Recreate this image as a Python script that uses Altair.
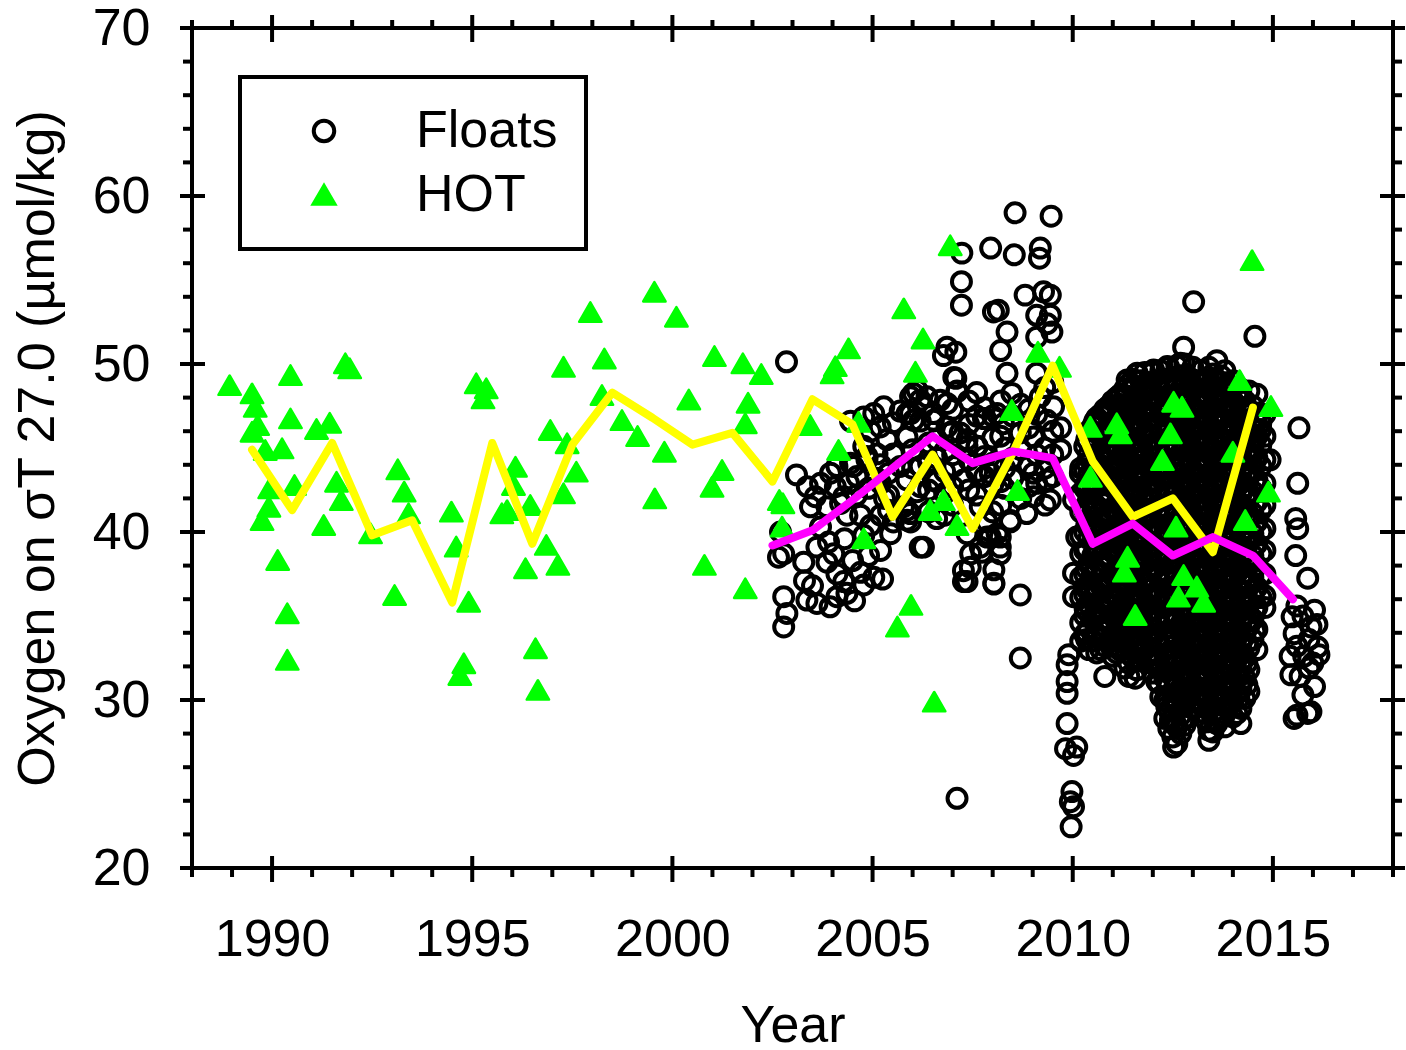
import altair as alt
import pandas as pd

FONT = "Liberation Sans"
W, H = 1201, 840

# ---------------- data ----------------
x_major = [1990, 1995, 2000, 2005, 2010, 2015]
x_minor = [1988, 1989, 1991, 1992, 1993, 1994, 1996, 1997, 1998, 1999, 2001, 2002,
           2003, 2004, 2006, 2007, 2008, 2009, 2011, 2012, 2013, 2014, 2016, 2017, 2018]
y_major = [20, 30, 40, 50, 60, 70]
y_minor = [22, 24, 26, 28, 32, 34, 36, 38, 42, 44, 46, 48, 52, 54, 56, 58, 62, 64, 66, 68]

series_names = ["Floats", "HOT"]

# yellow line (HOT annual means)
hot_mean_year = [1989.5, 1990.5, 1991.5, 1992.5, 1993.5, 1994.5, 1995.5, 1996.5, 1997.5,
                 1998.5, 1999.5, 2000.5, 2001.5, 2002.5, 2003.5, 2004.5, 2005.5, 2006.5,
                 2007.5, 2008.5, 2009.5, 2010.5, 2011.5, 2012.5, 2013.5, 2014.5]
hot_mean_o2 = [44.9, 41.3, 45.3, 39.8, 40.7, 35.8, 45.3, 39.3, 45.2,
               48.3, 46.8, 45.2, 45.9, 43.0, 47.9, 46.4, 40.9, 44.6,
               40.2, 44.7, 49.9, 44.2, 40.9, 42.0, 38.8, 47.4]

# magenta line (float annual means)
float_mean_year = [2002.5, 2003.5, 2004.5, 2005.5, 2006.5, 2007.5, 2008.5, 2009.5,
                   2010.5, 2011.5, 2012.5, 2013.5, 2014.5, 2015.5]
float_mean_o2 = [39.2, 40.1, 41.9, 43.8, 45.7, 44.1, 44.8, 44.4,
                 39.3, 40.5, 38.6, 39.7, 38.6, 36.0]

hot_points = [
    (1988.94, 48.74), (1989.50, 48.25), (1989.58, 47.45), (1989.64, 46.36), (1989.50, 45.97),
    (1989.83, 44.88), (1989.94, 42.60), (1989.92, 41.50), (1989.75, 40.71), (1990.25, 44.98),
    (1990.46, 49.34), (1990.46, 46.76), (1990.56, 42.80), (1990.14, 38.33), (1990.38, 35.16),
    (1990.38, 32.39), (1991.11, 46.13), (1991.44, 46.50), (1991.29, 40.42), (1991.83, 50.04),
    (1991.94, 49.74), (1991.61, 42.99), (1991.73, 41.90), (1992.46, 39.92), (1993.14, 43.73),
    (1993.30, 42.40), (1993.41, 41.11), (1993.06, 36.25), (1994.48, 41.21), (1994.60, 39.13),
    (1994.91, 35.85), (1994.79, 32.19), (1994.69, 31.49), (1995.10, 48.85), (1995.35, 48.55),
    (1995.27, 47.95), (1996.08, 43.88), (1996.03, 42.80), (1995.74, 41.11), (1995.87, 41.30),
    (1996.45, 41.61), (1996.33, 37.84), (1996.85, 39.23), (1997.14, 38.04), (1996.58, 33.08),
    (1996.64, 30.60), (1997.28, 49.83), (1996.95, 46.07), (1997.37, 45.28), (1997.60, 43.59),
    (1997.28, 42.30), (1998.30, 50.33), (1998.24, 48.15), (1998.74, 46.66), (1997.95, 53.09),
    (1999.55, 54.30), (2000.10, 52.81), (1999.13, 45.71), (1999.80, 44.78), (2000.41, 47.89),
    (1999.56, 42.00), (2001.05, 50.47), (2001.76, 50.04), (2002.22, 49.40), (2001.89, 47.69),
    (2001.82, 46.47), (2001.24, 43.69), (2000.99, 42.69), (2000.80, 38.04), (2001.82, 36.65),
    (2005.78, 53.31), (2004.40, 50.93), (2004.07, 49.87), (2003.99, 49.44), (2006.26, 51.52),
    (2006.07, 49.54), (2003.44, 46.37), (2004.65, 46.56), (2004.15, 44.88), (2002.76, 41.71),
    (2002.67, 41.90), (2002.74, 40.32), (2004.78, 39.63), (2006.44, 41.31), (2006.77, 41.90),
    (2007.11, 40.42), (2005.96, 35.66), (2005.62, 34.37), (2006.54, 29.90), (2006.94, 57.07),
    (2009.13, 50.73), (2009.67, 49.83), (2008.48, 47.26), (2008.62, 42.50), (2010.44, 46.26),
    (2011.10, 46.47), (2011.19, 45.87), (2012.52, 47.75), (2012.73, 47.45), (2012.44, 45.87),
    (2012.24, 44.28), (2010.44, 43.29), (2012.58, 40.32), (2011.37, 38.53), (2011.29, 37.64),
    (2011.56, 35.06), (2012.77, 37.44), (2013.10, 36.75), (2012.64, 36.15), (2013.27, 35.85),
    (2014.17, 49.04), (2014.95, 47.50), (2014.00, 44.78), (2014.89, 42.40), (2014.31, 40.71),
    (2014.48, 56.18),
]

floats_early = [
    (2002.85, 50.13), (2003.10, 43.4), (2003.37, 42.7), (2003.57, 42.1), (2003.45, 41.5),
    (2003.70, 42.9), (2003.95, 43.5), (2004.11, 43.9), (2004.07, 42.7), (2004.28, 42.1),
    (2004.45, 44.1), (2004.40, 42.9), (2004.61, 43.3), (2004.45, 46.6), (2004.78, 46.85),
    (2005.03, 47.05), (2004.95, 46.0), (2005.19, 46.25), (2005.36, 45.5), (2005.52, 46.5),
    (2005.69, 47.2), (2005.95, 48.05), (2006.11, 48.45), (2006.27, 47.45), (2006.02, 46.65),
    (2005.86, 45.65), (2005.52, 44.65), (2005.11, 44.65), (2004.86, 44.5), (2004.78, 45.1),
    (2005.69, 43.9), (2005.86, 43.1), (2006.19, 43.9), (2006.11, 42.4), (2005.77, 41.5),
    (2005.52, 40.6), (2005.45, 39.9), (2004.95, 40.4), (2004.78, 39.8), (2004.70, 41.0),
    (2004.36, 41.0), (2004.20, 41.7), (2003.86, 41.5), (2003.70, 40.3), (2002.70, 40.0),
    (2002.65, 38.5), (2002.78, 38.7), (2003.28, 38.2), (2003.61, 39.1), (2003.90, 39.4),
    (2004.03, 38.7), (2003.86, 38.2), (2004.11, 37.5), (2004.28, 37.05), (2004.70, 37.6),
    (2005.03, 37.3), (2004.78, 36.85), (2004.36, 36.35), (2004.11, 36.15), (2003.94, 35.55),
    (2003.61, 35.75), (2003.36, 35.95), (2002.78, 36.15), (2002.86, 35.15), (2002.78, 34.35),
    (2006.19, 39.1), (2005.28, 47.45), (2005.95, 47.05), (2006.19, 47.85), (2004.52, 43.9),
    (2004.86, 44.3), (2004.60, 42.2), (2004.90, 42.6), (2005.10, 43.2), (2005.30, 42.0),
    (2005.20, 41.0), (2004.90, 38.6), (2005.20, 38.9), (2004.50, 38.3), (2004.30, 39.6),
    (2003.30, 37.1), (2003.50, 36.8), (2004.55, 35.9), (2005.25, 37.2),
]

floats_mid = [
    (2008.56, 59.0), (2009.46, 58.8), (2007.23, 56.6), (2007.95, 56.9), (2008.54, 56.5),
    (2009.19, 56.9), (2009.17, 56.3), (2007.22, 54.9), (2007.22, 53.5), (2008.81, 54.1),
    (2009.27, 54.3), (2009.44, 54.1), (2008.14, 53.2), (2009.10, 52.9), (2009.44, 52.9),
    (2009.36, 52.4), (2008.36, 51.9), (2008.20, 50.8), (2009.48, 51.9), (2009.10, 51.6),
    (2006.86, 51.0), (2007.08, 50.7), (2006.77, 50.5), (2008.36, 49.45), (2009.10, 49.45),
    (2007.08, 49.15), (2007.11, 48.35), (2008.48, 48.25), (2009.19, 48.05), (2009.52, 47.45),
    (2006.02, 48.25), (2006.36, 48.05), (2006.69, 47.85), (2006.52, 47.05), (2006.19, 46.6),
    (2005.86, 47.05), (2007.82, 46.75), (2008.27, 46.45), (2008.11, 47.05), (2007.61, 45.1),
    (2007.36, 45.5), (2006.94, 45.9), (2008.69, 45.9), (2009.02, 45.65), (2009.36, 46.65),
    (2009.36, 43.1), (2009.44, 41.9), (2006.27, 39.1), (2005.94, 41.1), (2007.94, 43.5),
    (2007.69, 39.1), (2007.94, 39.7), (2008.19, 39.1), (2008.44, 40.7), (2008.85, 41.1),
    (2009.02, 42.1), (2009.02, 43.5), (2010.86, 47.05), (2011.36, 49.05), (2011.61, 49.45),
    (2012.02, 49.65), (2012.36, 49.85), (2012.69, 50.05), (2012.94, 48.25), (2011.69, 48.05),
    (2010.19, 43.5), (2010.02, 41.9), (2012.77, 51.0), (2013.02, 53.7),
    (2005.86, 40.7), (2007.27, 37.05), (2007.44, 37.9), (2007.73, 38.8), (2008.03, 36.95),
    (2008.03, 37.75), (2008.19, 38.7), (2007.86, 39.7), (2008.19, 39.7), (2008.44, 40.6),
    (2008.69, 36.25), (2008.69, 32.5), (2007.11, 24.15), (2009.31, 41.6), (2010.35, 33.6),
    (2009.90, 32.7), (2009.86, 32.1), (2009.86, 31.1), (2009.86, 30.4), (2009.86, 28.6),
    (2009.82, 27.1), (2010.10, 27.2), (2010.02, 26.7), (2009.98, 24.55), (2009.94, 23.95),
    (2010.02, 23.65), (2009.96, 22.45), (2010.10, 39.7), (2010.02, 37.55), (2010.02, 36.15),
    (2010.31, 35.45), (2010.69, 34.75), (2011.19, 32.95), (2011.56, 31.3), (2012.02, 32.4),
    (2012.35, 29.6), (2012.44, 28.8), (2012.52, 27.2), (2012.60, 30.4), (2012.85, 31.1),
    (2013.02, 32.3),
    (2007.03, 49.2), (2007.11, 48.4), (2008.02, 53.1), (2007.77, 46.75), (2006.86, 47.65),
    (2006.52, 46.65), (2006.86, 46.25), (2007.19, 45.9), (2007.36, 45.1), (2007.61, 45.1),
    (2007.03, 43.9), (2007.27, 43.1), (2006.52, 43.1), (2006.19, 42.7), (2005.86, 41.3),
    (2005.95, 40.6), (2007.69, 41.5), (2007.86, 40.6), (2008.11, 39.9), (2007.36, 39.9),
    (2007.45, 38.7), (2007.27, 37.7), (2007.36, 37.05), (2008.03, 36.9),
    (2008.30, 45.0), (2008.30, 43.8), (2008.30, 42.6), (2008.50, 46.9), (2008.50, 44.4),
    (2008.50, 43.2), (2008.70, 47.6), (2008.70, 44.9), (2008.70, 42.0), (2008.90, 47.3),
    (2008.90, 46.2), (2008.90, 44.0), (2008.90, 42.7), (2009.10, 47.0), (2009.10, 44.6),
    (2009.10, 42.9), (2009.30, 48.6), (2009.30, 45.0), (2009.30, 43.8), (2009.50, 48.9),
    (2009.50, 46.0), (2009.50, 44.6), (2009.50, 43.3), (2009.70, 46.2), (2009.70, 44.9),
    (2007.40, 47.8), (2007.40, 46.4), (2007.40, 44.3), (2007.40, 42.5), (2007.60, 48.3),
    (2007.60, 46.9), (2007.60, 43.6), (2007.60, 42.2), (2007.80, 47.4), (2007.80, 44.5),
    (2007.80, 43.3), (2008.00, 46.9), (2008.00, 45.6), (2008.00, 44.1), (2008.00, 42.8),
    (2008.00, 41.2), (2008.20, 47.8), (2008.20, 45.7), (2008.20, 43.0), (2008.20, 41.6),
    (2006.40, 45.3), (2006.40, 44.1), (2006.40, 42.5), (2006.40, 41.2), (2006.60, 45.5),
    (2006.60, 44.4), (2006.60, 43.0), (2006.60, 40.8), (2006.80, 44.8), (2006.80, 43.6),
    (2006.80, 42.3), (2006.80, 41.0), (2007.00, 47.3), (2007.00, 46.0), (2007.00, 44.6),
    (2007.00, 42.7), (2007.00, 41.6), (2005.20, 44.0), (2005.20, 42.9), (2005.40, 43.5),
    (2005.40, 42.2), (2005.40, 41.3), (2006.00, 44.9), (2006.00, 43.8),
]

# dense 2010-2015 cluster, read column by column (year, values)
floats_cluster = [
    (2010.2, [43.8, 42.3, 41.2, 39.8, 38.7, 37.3, 36.1, 34.6, 33.5]),
    (2010.3, [45.1, 43.7, 42.6, 41.3, 40.0, 38.9, 37.5, 36.3, 35.0, 33.9]),
    (2010.35, [45.5, 44.1, 42.9, 41.6, 40.4, 39.0, 37.8, 36.6, 35.3, 34.0]),
    (2010.4, [46.0, 44.6, 43.4, 42.0, 40.7, 39.6, 38.1, 36.8, 35.7, 34.3, 33.0]),
    (2010.5, [46.3, 45.0, 43.8, 42.5, 41.2, 39.9, 38.6, 37.4, 36.1, 34.8, 33.5]),
    (2010.55, [46.6, 45.3, 44.0, 42.8, 41.4, 40.1, 38.8, 37.6, 36.3, 35.1, 33.8]),
    (2010.6, [46.8, 45.5, 44.1, 42.9, 41.5, 40.3, 38.9, 37.7, 36.3, 35.2, 33.8, 32.8]),
    (2010.7, [47.0, 45.8, 44.5, 43.2, 41.9, 40.6, 39.3, 38.0, 36.8, 35.5, 34.2, 33.0]),
    (2010.75, [46.9, 45.6, 44.2, 43.0, 41.7, 40.5, 39.1, 37.9, 36.6, 35.3, 34.1]),
    (2010.8, [47.3, 46.0, 44.8, 43.5, 42.1, 40.9, 39.7, 38.2, 37.0, 35.9, 34.4, 33.2, 31.4]),
    (2010.9, [47.5, 46.3, 45.0, 43.8, 42.4, 41.2, 39.9, 38.6, 37.3, 36.1, 34.8, 33.5]),
    (2010.95, [47.2, 45.9, 44.6, 43.3, 42.1, 40.8, 39.5, 38.3, 37.0, 35.7, 34.4, 33.2]),
    (2011.0, [47.8, 46.6, 45.2, 43.9, 42.7, 41.3, 40.2, 38.8, 37.4, 36.3, 35.0, 33.7, 32.6]),
    (2011.1, [48.0, 46.8, 45.6, 44.2, 43.0, 41.7, 40.4, 39.1, 37.9, 36.6, 35.3, 34.0, 32.8]),
    (2011.15, [47.6, 46.3, 45.0, 43.8, 42.5, 41.2, 40.0, 38.7, 37.4, 36.1, 34.9, 33.6]),
    (2011.2, [48.2, 46.9, 45.6, 44.5, 43.0, 41.8, 40.5, 39.2, 38.0, 36.6, 35.5, 34.1, 33.0]),
    (2011.3, [48.5, 47.2, 45.9, 44.7, 43.4, 42.1, 40.8, 39.6, 38.3, 37.0, 35.7, 34.4, 33.1, 31.9]),
    (2011.35, [48.1, 46.8, 45.5, 44.3, 43.0, 41.7, 40.5, 39.2, 37.9, 36.6, 35.4, 34.1, 32.8]),
    (2011.4, [48.8, 47.4, 46.2, 45.1, 43.7, 42.3, 41.1, 39.9, 38.5, 37.3, 36.0, 34.8, 33.4, 32.2, 31.4]),
    (2011.5, [49.1, 47.8, 46.6, 45.3, 44.0, 42.7, 41.5, 40.2, 38.9, 37.6, 36.3, 35.1, 33.8, 32.5]),
    (2011.55, [48.6, 47.3, 46.1, 44.8, 43.5, 42.3, 41.0, 39.7, 38.4, 37.2, 35.9, 34.6, 33.3]),
    (2011.6, [49.4, 48.1, 46.7, 45.5, 44.3, 43.0, 41.6, 40.4, 39.2, 37.9, 36.5, 35.3, 34.0, 32.8, 31.8]),
    (2011.7, [49.0, 47.7, 46.4, 45.1, 43.8, 42.6, 41.3, 40.0, 38.7, 37.5, 36.2, 34.9, 33.6, 32.4]),
    (2011.75, [48.7, 47.4, 46.2, 44.9, 43.6, 42.3, 41.1, 39.8, 38.5, 37.2, 36.0, 34.7, 33.4]),
    (2011.8, [49.5, 48.3, 47.1, 45.7, 44.4, 43.2, 41.9, 40.7, 39.3, 38.1, 36.9, 35.5, 34.3, 33.0]),
    (2011.9, [48.9, 47.6, 46.3, 45.1, 43.8, 42.5, 41.2, 40.0, 38.7, 37.4, 36.2, 34.9, 33.6, 32.3]),
    (2011.95, [48.8, 47.5, 46.2, 45.0, 43.7, 42.4, 41.1, 39.9, 38.6, 37.3, 36.1, 34.8, 33.5, 32.2]),
    (2012.0, [49.5, 48.2, 46.9, 45.6, 44.4, 43.1, 41.8, 40.5, 39.3, 38.0, 36.7, 35.4, 34.2, 32.9, 31.6]),
    (2012.1, [49.0, 47.7, 46.4, 45.2, 43.9, 42.6, 41.3, 40.1, 38.8, 37.5, 36.3, 35.0, 33.7, 32.4, 31.1]),
    (2012.15, [48.8, 47.5, 46.3, 45.0, 43.7, 42.5, 41.2, 39.9, 38.6, 37.4, 36.1, 34.8, 33.5, 32.3, 31.0]),
    (2012.2, [49.6, 48.4, 47.0, 45.8, 44.6, 43.2, 42.0, 40.8, 39.4, 38.2, 37.0, 35.6, 34.4, 33.2, 31.8, 30.2]),
    (2012.3, [49.1, 47.8, 46.6, 45.3, 44.0, 42.7, 41.5, 40.2, 38.9, 37.7, 36.4, 35.1, 33.8, 32.6, 31.3, 30.0, 28.9]),
    (2012.35, [48.9, 47.7, 46.4, 45.1, 43.8, 42.6, 41.3, 40.0, 38.8, 37.5, 36.2, 35.0, 33.7, 32.4, 31.1, 29.9]),
    (2012.4, [49.8, 48.5, 47.3, 46.0, 44.7, 43.5, 42.1, 40.9, 39.7, 38.3, 37.1, 35.8, 34.6, 33.2, 32.0, 30.8, 29.4, 28.3]),
    (2012.5, [49.2, 47.9, 46.7, 45.4, 44.1, 42.9, 41.6, 40.3, 39.1, 37.8, 36.5, 35.2, 34.0, 32.7, 31.4, 30.2, 28.9, 27.8]),
    (2012.55, [49.0, 47.7, 46.5, 45.2, 43.9, 42.6, 41.4, 40.1, 38.8, 37.6, 36.3, 35.0, 33.8, 32.5, 31.2, 29.9, 28.7]),
    (2012.6, [49.9, 48.6, 47.3, 46.1, 44.9, 43.5, 42.3, 41.0, 39.8, 38.5, 37.2, 35.9, 34.7, 33.4, 32.1, 30.8, 29.6, 28.4, 27.4]),
    (2012.7, [49.3, 48.0, 46.8, 45.5, 44.2, 43.0, 41.7, 40.4, 39.2, 37.9, 36.6, 35.4, 34.1, 32.8, 31.6, 30.3, 29.1, 28.0]),
    (2012.75, [49.1, 47.8, 46.5, 45.3, 44.0, 42.7, 41.5, 40.2, 38.9, 37.6, 36.4, 35.1, 33.8, 32.6, 31.3, 30.0, 28.8]),
    (2012.8, [50.0, 48.7, 47.5, 46.2, 44.9, 43.7, 42.4, 41.1, 39.9, 38.6, 37.3, 36.1, 34.8, 33.5, 32.2, 31.0, 29.7, 28.5]),
    (2012.9, [49.2, 47.9, 46.6, 45.4, 44.1, 42.8, 41.6, 40.3, 39.0, 37.8, 36.5, 35.2, 33.9, 32.7, 31.4, 30.2, 29.0]),
    (2012.95, [49.0, 47.7, 46.4, 45.2, 43.9, 42.6, 41.4, 40.1, 38.8, 37.5, 36.3, 35.0, 33.7, 32.5, 31.2, 29.9]),
    (2013.0, [49.8, 48.5, 47.2, 46.0, 44.8, 43.5, 42.2, 40.9, 39.7, 38.4, 37.1, 35.9, 34.6, 33.3, 32.0, 30.8, 29.5]),
    (2013.1, [49.0, 47.8, 46.5, 45.2, 44.0, 42.7, 41.4, 40.1, 38.9, 37.6, 36.3, 35.1, 33.8, 32.5, 31.3, 30.0]),
    (2013.15, [48.9, 47.6, 46.3, 45.1, 43.8, 42.5, 41.3, 40.0, 38.7, 37.4, 36.2, 34.9, 33.6, 32.4, 31.1, 29.8]),
    (2013.2, [49.6, 48.3, 47.1, 45.8, 44.5, 43.3, 42.0, 40.8, 39.5, 38.2, 36.9, 35.7, 34.4, 33.1, 31.8, 30.6, 29.3]),
    (2013.3, [49.1, 47.9, 46.6, 45.3, 44.1, 42.8, 41.5, 40.2, 39.0, 37.7, 36.4, 35.2, 33.9, 32.6, 31.4, 30.1, 28.9]),
    (2013.35, [49.0, 47.7, 46.5, 45.2, 43.9, 42.7, 41.4, 40.1, 38.9, 37.6, 36.3, 35.0, 33.8, 32.5, 31.2, 30.0, 28.7]),
    (2013.4, [49.8, 48.5, 47.2, 46.0, 44.7, 43.4, 42.2, 40.9, 39.6, 38.4, 37.0, 35.8, 34.5, 33.3, 32.0, 30.7, 29.4, 28.2, 27.6]),
    (2013.5, [49.4, 48.2, 46.9, 45.6, 44.4, 43.1, 41.8, 40.6, 39.3, 38.0, 36.7, 35.5, 34.2, 32.9, 31.7, 30.4, 29.2, 28.1]),
    (2013.55, [49.1, 47.8, 46.6, 45.3, 44.0, 42.8, 41.5, 40.2, 39.0, 37.7, 36.4, 35.1, 33.9, 32.6, 31.3, 30.1, 28.8]),
    (2013.6, [50.2, 48.9, 47.6, 46.4, 45.1, 43.8, 42.5, 41.3, 40.0, 38.7, 37.4, 36.2, 34.9, 33.6, 32.3, 31.1, 29.8, 28.6]),
    (2013.7, [49.3, 48.0, 46.8, 45.5, 44.2, 43.0, 41.7, 40.4, 39.2, 37.9, 36.6, 35.3, 34.1, 32.8, 31.5, 30.3, 29.0]),
    (2013.75, [48.9, 47.6, 46.4, 45.1, 43.8, 42.6, 41.3, 40.0, 38.8, 37.5, 36.2, 34.9, 33.7, 32.4, 31.1, 29.9]),
    (2013.8, [49.6, 48.3, 47.0, 45.8, 44.5, 43.2, 42.0, 40.7, 39.4, 38.1, 36.9, 35.6, 34.3, 33.0, 31.8, 30.5, 29.2, 28.4]),
    (2013.9, [48.7, 47.4, 46.1, 44.9, 43.6, 42.3, 41.0, 39.8, 38.5, 37.2, 36.0, 34.7, 33.4, 32.1, 30.9, 29.6]),
    (2013.95, [48.3, 47.0, 45.8, 44.5, 43.2, 42.0, 40.7, 39.4, 38.1, 36.9, 35.6, 34.3, 33.1, 31.8, 30.5]),
    (2014.0, [49.0, 47.7, 46.5, 45.2, 43.9, 42.7, 41.4, 40.1, 38.8, 37.6, 36.3, 35.0, 33.8, 32.5, 31.2, 29.9, 29.0]),
    (2014.1, [48.2, 46.9, 45.6, 44.4, 43.1, 41.8, 40.6, 39.3, 38.0, 36.7, 35.5, 34.2, 32.9, 31.7, 30.4, 29.2]),
    (2014.15, [47.9, 46.6, 45.3, 44.1, 42.8, 41.5, 40.3, 39.0, 37.7, 36.5, 35.2, 33.9, 32.6, 31.4, 30.1]),
    (2014.2, [48.5, 47.2, 46.0, 44.7, 43.4, 42.2, 40.9, 39.6, 38.4, 37.1, 35.8, 34.5, 33.3, 32.0, 30.7, 29.5, 28.6]),
    (2014.3, [47.8, 46.5, 45.3, 44.0, 42.7, 41.4, 40.2, 38.9, 37.6, 36.4, 35.1, 33.8, 32.5, 31.3, 30.1]),
    (2014.35, [47.4, 46.1, 44.9, 43.6, 42.3, 41.1, 39.8, 38.5, 37.2, 36.0, 34.7, 33.4, 32.2, 30.9]),
    (2014.4, [48.4, 47.1, 45.9, 44.6, 43.3, 42.0, 40.8, 39.5, 38.2, 36.9, 35.7, 34.4, 33.1, 31.8, 30.5]),
    (2014.5, [47.5, 46.2, 45.0, 43.7, 42.4, 41.1, 39.9, 38.6, 37.3, 36.1, 34.8, 33.6]),
    (2014.55, [46.8, 45.5, 44.3, 43.0, 41.7, 40.5, 39.2, 37.9, 36.6, 35.4, 34.1]),
    (2014.6, [48.2, 46.9, 45.7, 44.4, 43.1, 41.8, 40.6, 39.3, 38.0, 36.7, 35.5, 34.2, 33.0]),
    (2014.7, [46.5, 45.2, 43.9, 42.6, 41.3, 40.0, 38.7, 37.4, 36.1]),
    (2014.8, [47.0, 45.7, 44.3, 42.9, 41.6, 40.2, 38.9, 37.5, 36.2, 35.5]),
]

floats_east = [
    (2015.65, 46.2), (2015.62, 42.9), (2015.57, 40.8), (2015.62, 40.2), (2015.57, 38.6),
    (2015.87, 37.25), (2015.48, 34.95), (2016.04, 35.35), (2015.53, 33.95), (2015.95, 34.35),
    (2016.12, 33.15), (2015.43, 32.6), (2015.77, 32.6), (2015.68, 31.4), (2016.04, 30.8),
    (2015.53, 28.9), (2015.87, 29.2), (2015.60, 35.6), (2015.75, 35.0), (2015.90, 33.6),
    (2015.60, 33.2), (2016.10, 34.5), (2015.45, 31.5), (2015.90, 31.9), (2015.75, 30.3),
    (2016.00, 32.2), (2016.15, 32.7), (2015.60, 29.1), (2015.95, 29.3), (2014.55, 51.65),
    (2014.93, 44.3), (2014.70, 46.1),
]

# ---------------- tables ----------------
float_rows = list(floats_early) + list(floats_mid) + list(floats_east)
for yr, vals in floats_cluster:
    float_rows += [(yr, v) for v in vals]
floats_df = pd.DataFrame(float_rows, columns=["year", "o2"])
floats_df["series"] = "Floats"
hot_df = pd.DataFrame(hot_points, columns=["year", "o2"])
hot_df["series"] = "HOT"
hot_line_df = pd.DataFrame({"year": hot_mean_year, "o2": hot_mean_o2})
float_line_df = pd.DataFrame({"year": float_mean_year, "o2": float_mean_o2})

# ---------------- encodings ----------------
xscale = alt.Scale(domain=[1988, 2018], nice=False, zero=False)
yscale = alt.Scale(domain=[20, 70], nice=False, zero=False)
XTITLE = "Year"
YTITLE = "Oxygen on σT 27.0 (µmol/kg)"

xaxis = alt.Axis(values=x_major, format="d", labelFont=FONT, labelFontSize=52,
                 labelColor="black", labelPadding=46, labelFlush=False, labelOverlap=False,
                 ticks=False, tickSize=0, domain=False, grid=False,
                 title=XTITLE, titleFont=FONT, titleFontSize=52, titleFontWeight="normal",
                 titleColor="black", titleX=W / 2, titleY=173, titleBaseline="alphabetic",
                 titleAlign="center")
yaxis = alt.Axis(values=y_major, format="d", labelFont=FONT, labelFontSize=52,
                 labelColor="black", labelPadding=42, labelFlush=False, labelOverlap=False,
                 ticks=False, tickSize=0, domain=False, grid=False,
                 title=YTITLE, titleFont=FONT, titleFontSize=52, titleFontWeight="normal",
                 titleColor="black", titleAngle=270, titleX=-139, titleY=H / 2,
                 titleBaseline="alphabetic", titleAlign="center")


def X(field="year"):
    return alt.X(f"{field}:Q", scale=xscale, axis=xaxis, title=XTITLE)


def Y(field="o2"):
    return alt.Y(f"{field}:Q", scale=yscale, axis=yaxis, title=YTITLE)


legend = alt.Legend(title=None, orient="none", legendX=48, legendY=49,
                    labelFont=FONT, labelFontSize=52, labelColor="black", labelLimit=0,
                    labelBaseline="middle", padding=28, rowPadding=12,
                    symbolOffset=30, labelOffset=66, symbolSize=420, symbolStrokeWidth=4,
                    strokeColor="black", fillColor="white")

shape_enc = alt.Shape("series:N", scale=alt.Scale(domain=series_names,
                      range=["circle", "triangle-up"]), legend=legend)
fill_enc = alt.Fill("series:N", scale=alt.Scale(domain=series_names,
                    range=["transparent", "#00ff00"]), legend=legend)
stroke_enc = alt.Stroke("series:N", scale=alt.Scale(domain=series_names,
                        range=["#000000", "#00ff00"]), legend=legend)

floats_layer = alt.Chart(floats_df).mark_point(size=360, strokeWidth=4, opacity=1).encode(
    x=X(), y=Y(), shape=shape_enc, fill=fill_enc, stroke=stroke_enc)
hot_layer = alt.Chart(hot_df).mark_point(size=500, strokeWidth=2.5, strokeJoin="round",
                                         opacity=1).encode(
    x=X(), y=Y(), shape=shape_enc, fill=fill_enc, stroke=stroke_enc)

yellow = alt.Chart(hot_line_df).mark_line(color="#ffff00", strokeWidth=8, strokeCap="round",
                                          strokeJoin="round").encode(x=X(), y=Y())
magenta = alt.Chart(float_line_df).mark_line(color="#ff00ff", strokeWidth=8, strokeCap="round",
                                             strokeJoin="round").encode(x=X(), y=Y())


def xticks(values, a, b):
    return alt.Chart(pd.DataFrame({"year": values})).mark_rule(
        color="black", strokeWidth=4).encode(x=X(), y=alt.value(a), y2=alt.value(b))


def yticks(values, a, b):
    return alt.Chart(pd.DataFrame({"o2": values})).mark_rule(
        color="black", strokeWidth=4).encode(y=Y(), x=alt.value(a), x2=alt.value(b))


tick_layers = [
    xticks(x_minor, H, H + 9),
    xticks(x_major, H - 12, H + 14),
    xticks(x_minor, -8, 0),
    xticks(x_major, -13, 14),
    yticks(y_minor, -9, 0),
    yticks(y_major, -12, 13),
    yticks(y_minor, W, W + 9),
    yticks(y_major, W - 13, W + 12),
]

chart = alt.layer(floats_layer, hot_layer, yellow, magenta, *tick_layers).properties(
    width=W, height=H,
    autosize=alt.AutoSizeParams(type="none"),
    padding={"left": 192, "top": 28, "right": 13, "bottom": 182},
    background="white",
).configure_view(
    stroke="black", strokeWidth=4
).configure_legend(
    strokeWidth=4
)

chart.save("out.html", embed_options={"renderer": "svg", "actions": False})
